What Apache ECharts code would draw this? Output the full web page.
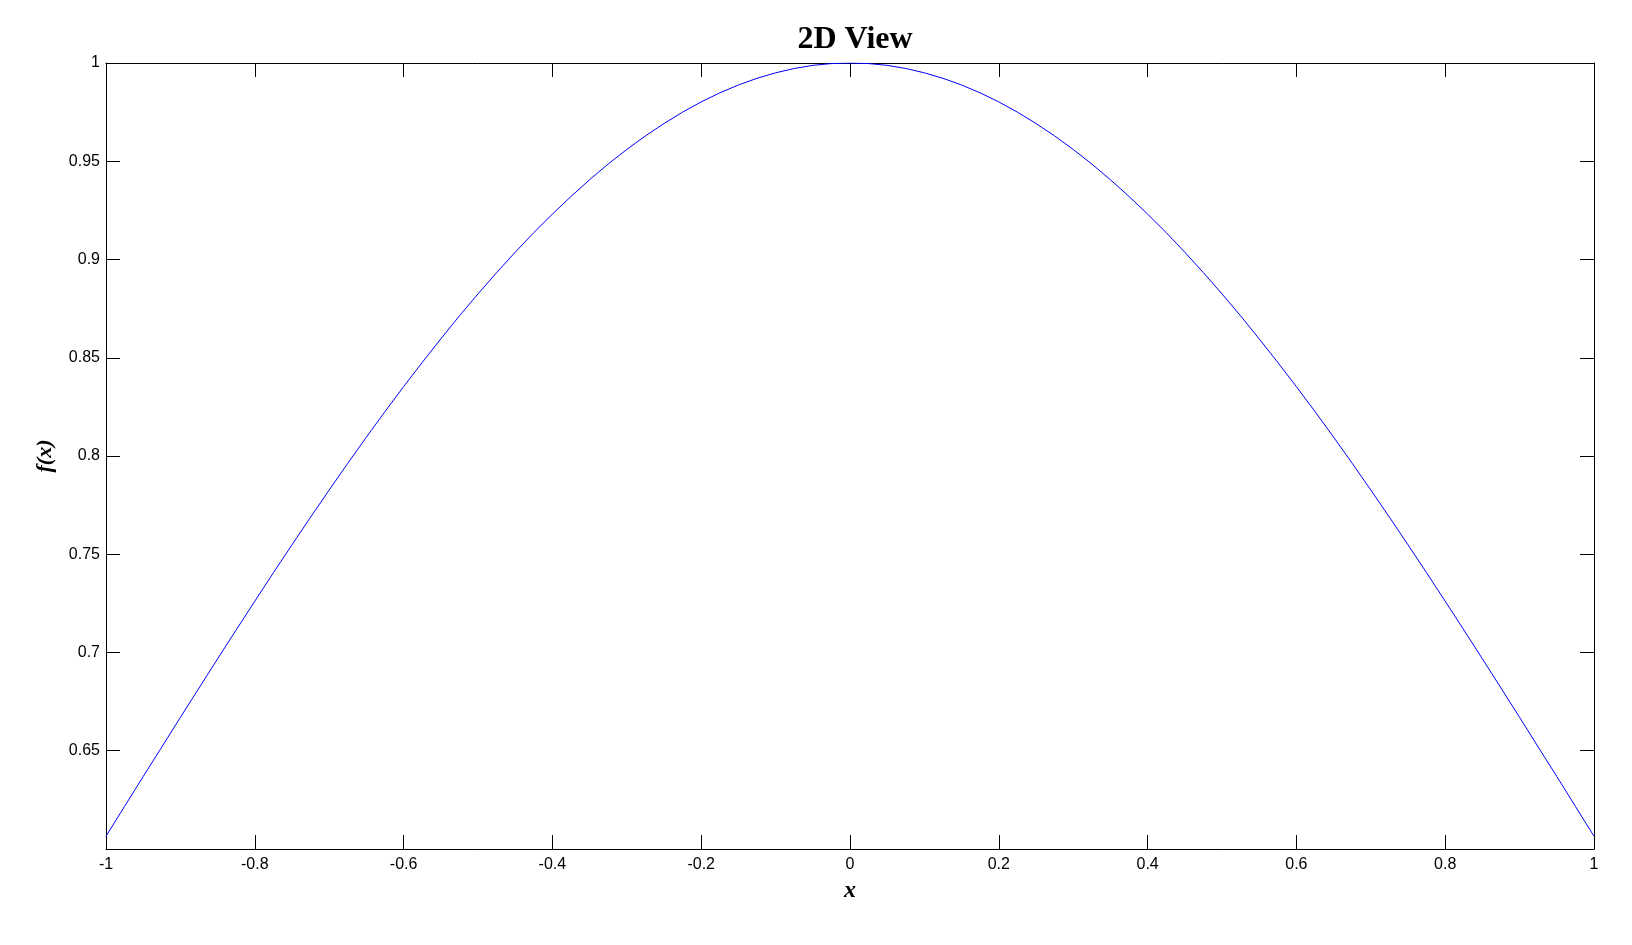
<!DOCTYPE html>
<html>
<head>
<meta charset="utf-8">
<script src="https://cdn.jsdelivr.net/npm/echarts@6/dist/echarts.min.js"></script>
<style>html,body{margin:0;padding:0;background:#fff;}#c{width:1632px;height:945px;}</style>
</head>
<body>
<div id="c"></div>
<script>
const xValues = [-1,-0.975,-0.95,-0.925,-0.9,-0.875,-0.85,-0.825,-0.8,-0.775,-0.75,-0.725,-0.7,-0.675,-0.65,-0.625,-0.6,-0.575,-0.55,-0.525,-0.5,-0.475,-0.45,-0.425,-0.4,-0.375,-0.35,-0.325,-0.3,-0.275,-0.25,-0.225,-0.2,-0.175,-0.15,-0.125,-0.1,-0.075,-0.05,-0.025,0,0.025,0.05,0.075,0.1,0.125,0.15,0.175,0.2,0.225,0.25,0.275,0.3,0.325,0.35,0.375,0.4,0.425,0.45,0.475,0.5,0.525,0.55,0.575,0.6,0.625,0.65,0.675,0.7,0.725,0.75,0.775,0.8,0.825,0.85,0.875,0.9,0.925,0.95,0.975,1];
const yValues = [0.6065,0.6217,0.6369,0.6519,0.6670,0.6819,0.6968,0.7115,0.7261,0.7406,0.7548,0.7689,0.7827,0.7963,0.8096,0.8226,0.8353,0.8476,0.8596,0.8713,0.8825,0.8933,0.9037,0.9137,0.9231,0.9321,0.9406,0.9486,0.9560,0.9629,0.9692,0.9750,0.9802,0.9848,0.9888,0.9922,0.9950,0.9972,0.9988,0.9997,1.0000,0.9997,0.9988,0.9972,0.9950,0.9922,0.9888,0.9848,0.9802,0.9750,0.9692,0.9629,0.9560,0.9486,0.9406,0.9321,0.9231,0.9137,0.9037,0.8933,0.8825,0.8713,0.8596,0.8476,0.8353,0.8226,0.8096,0.7963,0.7827,0.7689,0.7548,0.7406,0.7261,0.7115,0.6968,0.6819,0.6670,0.6519,0.6369,0.6217,0.6065];
const titleText = '2D View';
const xLabel = 'x';
const yLabel = 'f(x)';

const chart = echarts.init(document.getElementById('c'), null, {renderer:'canvas'});
const tickFont = {color:'#000', fontFamily:'Liberation Sans, Arial, sans-serif', fontSize:16};
const axisLine = {show:true, onZero:false, lineStyle:{color:'#000', width:1}};
const axisTick = {show:true, inside:true, length:14, lineStyle:{color:'#000', width:1}};
chart.setOption({
  animation:false,
  backgroundColor:'#fff',
  title:{text:titleText, left:850, top:19, textAlign:'center',
    textStyle:{fontFamily:'Liberation Serif, Times New Roman, serif', fontWeight:'bold', fontSize:32, color:'#000'}},
  grid:{left:106, top:63, right:38, bottom:96, containLabel:false},
  xAxis:[
    {type:'value', min:-1, max:1, interval:0.2, position:'bottom',
     name:xLabel, nameLocation:'middle', nameGap:30,
     nameTextStyle:{fontFamily:'Liberation Serif, Times New Roman, serif', fontStyle:'italic', fontWeight:'bold', fontSize:24, color:'#000'},
     axisLine:axisLine, axisTick:axisTick, splitLine:{show:false},
     axisLabel:Object.assign({margin:8, formatter:v=>String(Math.round(v*10)/10)}, tickFont)},
    {type:'value', min:-1, max:1, interval:0.2, position:'top',
     axisLine:axisLine, axisTick:axisTick, splitLine:{show:false}, axisLabel:{show:false}}
  ],
  yAxis:[
    {type:'value', min:0.6, max:1, interval:0.05, position:'left',
     name:yLabel, nameLocation:'middle', nameGap:50, nameRotate:90,
     nameTextStyle:{fontFamily:'Liberation Serif, Times New Roman, serif', fontStyle:'italic', fontWeight:'bold', fontSize:22, color:'#000'},
     axisLine:axisLine, axisTick:axisTick, splitLine:{show:false},
     axisLabel:Object.assign({margin:6, formatter:v=>{const r=Math.round(v*100)/100; return r<=0.6001?'':String(r);}}, tickFont)},
    {type:'value', min:0.6, max:1, interval:0.05, position:'right',
     axisLine:axisLine, axisTick:axisTick, splitLine:{show:false}, axisLabel:{show:false}}
  ],
  series:[{
    type:'line', xAxisIndex:0, yAxisIndex:0, smooth:false, showSymbol:false,
    lineStyle:{color:'#0000ff', width:1},
    data:xValues.map((x,i)=>[x,yValues[i]])
  }]
});
</script>
</body>
</html>
